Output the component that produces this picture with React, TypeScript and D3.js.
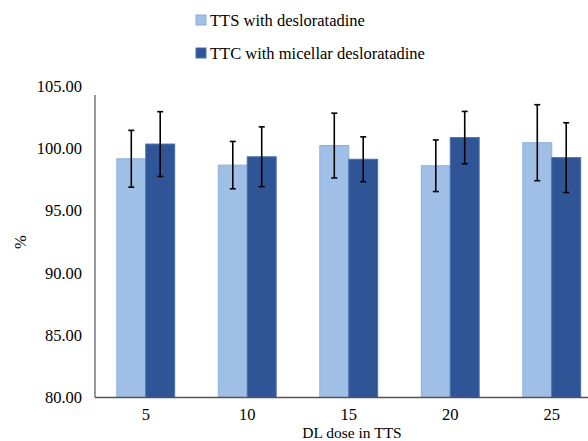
import React from "react";
import * as d3 from "d3";

const categories = ["5", "10", "15", "20", "25"];
const seriesNames = ["TTS with desloratadine", "TTC with micellar desloratadine"];
const ttsValues = [99.16, 98.65, 100.22, 98.6, 100.45];
const ttsErrors = [2.28, 1.9, 2.6, 2.07, 3.05];
const ttcValues = [100.34, 99.32, 99.12, 100.86, 99.25];
const ttcErrors = [2.6, 2.4, 1.8, 2.1, 2.8];
const yTicks = [80, 85, 90, 95, 100, 105];

const fills = ["#A0BFE6", "#2F5597"];
const strokes = ["#8FAEDC", "#4A6FB0"];
const font = "Liberation Serif, DejaVu Serif, Times New Roman, serif";
const fs = 16.5;

const W = 588;
const H = 441;
const left = 95;
const top = 86;
const bottom = 397.5;

export default function App() {
  const y = d3.scaleLinear().domain([80, 105]).range([bottom, top]);
  const x0 = d3
    .scaleBand()
    .domain(categories)
    .range([left, left + 5 * 101.5])
    .paddingInner(0.43)
    .paddingOuter(0.215);
  const x1 = d3.scaleBand().domain(["0", "1"]).range([0, x0.bandwidth()]);

  const series = [
    { vals: ttsValues, errs: ttsErrors },
    { vals: ttcValues, errs: ttcErrors },
  ];

  const txt = { fontFamily: font, fontSize: fs, fill: "#000" };

  return (
    <svg width={W} height={H} style={{ position: "absolute", left: 0, top: 0, background: "#fff" }}>
      {/* legend */}
      {seriesNames.map((name, i) => (
        <g key={name} transform={`translate(196, ${20 + i * 33})`}>
          <rect x={0} y={-5} width={10} height={10} fill={fills[i]} stroke={strokes[i]} />
          <text x={14} y={5.5} style={txt}>
            {name}
          </text>
        </g>
      ))}

      {/* y tick labels */}
      {yTicks.map((t) => (
        <text key={t} x={82} y={y(t)} dy="0.35em" textAnchor="end" style={txt}>
          {t.toFixed(2)}
        </text>
      ))}

      {/* bars */}
      {series.map((s, si) =>
        categories.map((c, ci) => (
          <rect
            key={`${si}-${c}`}
            x={(x0(c) as number) + (x1(String(si)) as number)}
            y={y(s.vals[ci])}
            width={x1.bandwidth()}
            height={y(80) - y(s.vals[ci])}
            fill={fills[si]}
            stroke={strokes[si]}
            strokeWidth={1}
          />
        ))
      )}

      {/* error bars */}
      {series.map((s, si) =>
        categories.map((c, ci) => {
          const cx = (x0(c) as number) + (x1(String(si)) as number) + x1.bandwidth() / 2;
          const y1 = y(s.vals[ci] + s.errs[ci]);
          const y2 = y(s.vals[ci] - s.errs[ci]);
          return (
            <g key={`e${si}-${c}`} stroke="#000" strokeWidth={1.6}>
              <line x1={cx} x2={cx} y1={y1} y2={y2} />
              <line x1={cx - 3} x2={cx + 3} y1={y1} y2={y1} />
              <line x1={cx - 3} x2={cx + 3} y1={y2} y2={y2} />
            </g>
          );
        })
      )}

      {/* axes */}
      <line x1={left} x2={left} y1={y(105) + 9} y2={y(80)} stroke="#555" strokeWidth={1.2} />
      <line x1={left} x2={W} y1={y(80)} y2={y(80)} stroke="#555" strokeWidth={1.5} />

      {/* x tick labels */}
      {categories.map((c) => (
        <text
          key={c}
          x={(x0(c) as number) + x0.bandwidth() / 2}
          y={414}
          dy="0.35em"
          textAnchor="middle"
          style={txt}
        >
          {c}
        </text>
      ))}

      {/* axis titles */}
      <text x={352} y={433} dy="0.3em" textAnchor="middle" style={{ ...txt, fontSize: 15.5 }}>
        DL dose in TTS
      </text>
      <text transform={`translate(20, 242) rotate(-90)`} textAnchor="middle" dy="0.35em" style={txt}>
        %
      </text>
    </svg>
  );
}
